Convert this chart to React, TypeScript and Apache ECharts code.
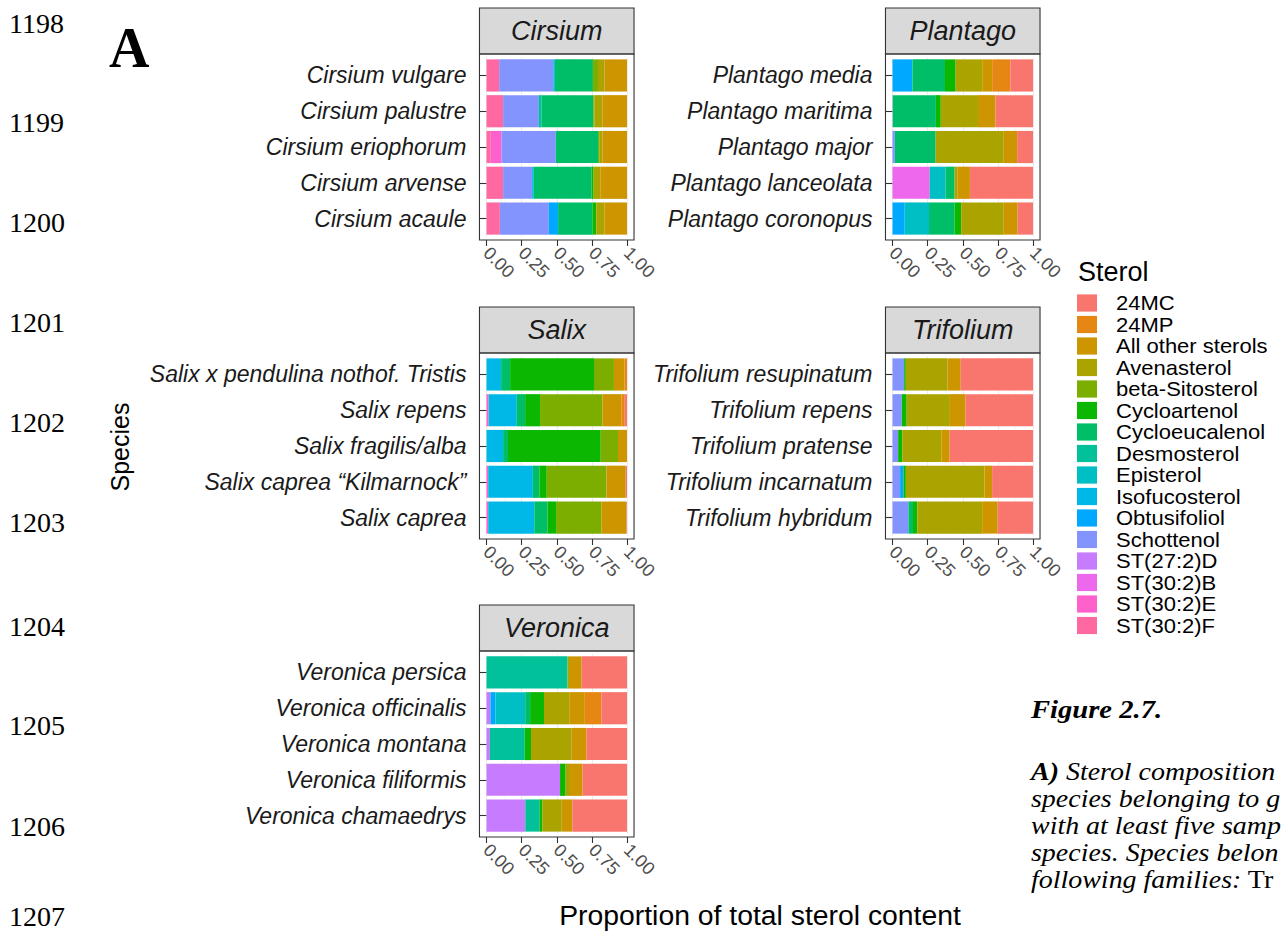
import React, { useEffect, useRef } from "react";
import * as echarts from "echarts";

// Sterols in legend order (ggplot factor order); stacked left->right in reverse order
const STEROLS = [
  "24MC", "24MP", "All other sterols", "Avenasterol", "beta-Sitosterol", "Cycloartenol",
  "Cycloeucalenol", "Desmosterol", "Episterol", "Isofucosterol", "Obtusifoliol", "Schottenol",
  "ST(27:2)D", "ST(30:2)B", "ST(30:2)E", "ST(30:2)F",
];
const STEROL_COLORS = [
  "#F8766D", "#E68613", "#CD9600", "#ABA300", "#7CAE00", "#0CB702", "#00BE67", "#00C19A",
  "#00BFC4", "#00B8E7", "#00A9FF", "#8494FF", "#C77CFF", "#ED68ED", "#FF61CC", "#FF68A1",
];

const GENERA = ["Cirsium", "Plantago", "Salix", "Trifolium", "Veronica"];

// columns: 24MC 24MP Other Aven bSit Cart Ceuc Desm Epis Isof Obtu Scho 27D 30B 30E 30F
const CIRSIUM_SPECIES = ["Cirsium vulgare", "Cirsium palustre", "Cirsium eriophorum", "Cirsium arvense", "Cirsium acaule"];
const CIRSIUM_VALUES = [
  [0, 0, 0.159, 0.047, 0.036, 0, 0.270, 0, 0, 0.012, 0, 0.384, 0, 0, 0, 0.090],
  [0, 0, 0.175, 0.055, 0.010, 0, 0.367, 0.019, 0, 0, 0, 0.254, 0, 0, 0, 0.118],
  [0, 0, 0.174, 0.020, 0.012, 0, 0.301, 0, 0, 0, 0, 0.386, 0, 0, 0.077, 0.030],
  [0, 0, 0.190, 0.047, 0, 0.015, 0.410, 0, 0, 0.012, 0, 0.206, 0, 0, 0, 0.118],
  [0, 0, 0.159, 0.059, 0, 0.028, 0.244, 0, 0, 0, 0.066, 0.348, 0, 0, 0, 0.095],
];

const PLANTAGO_SPECIES = ["Plantago media", "Plantago maritima", "Plantago major", "Plantago lanceolata", "Plantago coronopus"];
const PLANTAGO_VALUES = [
  [0.161, 0.130, 0.071, 0.189, 0, 0.076, 0.232, 0, 0, 0, 0.142, 0, 0, 0, 0, 0],
  [0.267, 0, 0.125, 0.265, 0, 0.035, 0.307, 0, 0, 0, 0, 0.002, 0, 0, 0, 0],
  [0.113, 0, 0.095, 0.485, 0, 0, 0.290, 0, 0, 0, 0, 0.017, 0, 0, 0, 0],
  [0.449, 0, 0.090, 0.019, 0, 0, 0.064, 0, 0.113, 0, 0, 0, 0, 0.265, 0, 0],
  [0.109, 0, 0.099, 0.303, 0, 0.047, 0.182, 0, 0.173, 0, 0.087, 0, 0, 0, 0, 0],
];

const SALIX_SPECIES = ["Salix x pendulina nothof. Tristis", "Salix repens", "Salix fragilis/alba", "Salix caprea \u201cKilmarnock\u201d", "Salix caprea"];
const SALIX_VALUES = [
  [0, 0.018, 0.075, 0, 0.142, 0.597, 0.064, 0, 0, 0.104, 0, 0, 0, 0, 0, 0],
  [0.016, 0.024, 0.134, 0, 0.443, 0.106, 0.059, 0, 0, 0.200, 0, 0, 0, 0, 0.015, 0],
  [0, 0, 0.064, 0, 0.123, 0.660, 0.035, 0, 0, 0.118, 0, 0, 0, 0, 0, 0],
  [0.009, 0, 0.137, 0, 0.425, 0.052, 0.047, 0, 0, 0.318, 0, 0, 0, 0, 0.012, 0],
  [0.005, 0, 0.177, 0, 0.323, 0.061, 0.094, 0, 0, 0.328, 0, 0, 0, 0, 0.012, 0],
];

const TRIFOLIUM_SPECIES = ["Trifolium resupinatum", "Trifolium repens", "Trifolium pratense", "Trifolium incarnatum", "Trifolium hybridum"];
const TRIFOLIUM_VALUES = [
  [0.515, 0, 0.095, 0.296, 0, 0.012, 0, 0, 0, 0, 0, 0.083, 0, 0, 0, 0],
  [0.480, 0, 0.111, 0.307, 0, 0.035, 0, 0, 0, 0, 0, 0.066, 0, 0, 0, 0],
  [0.593, 0, 0.059, 0.277, 0, 0.031, 0, 0, 0, 0, 0, 0.040, 0, 0, 0, 0],
  [0.291, 0, 0.054, 0.560, 0, 0.017, 0, 0, 0, 0, 0.024, 0.054, 0, 0, 0, 0],
  [0.251, 0, 0.111, 0.461, 0, 0.031, 0.033, 0, 0, 0, 0, 0.113, 0, 0, 0, 0],
];

const VERONICA_SPECIES = ["Veronica persica", "Veronica officinalis", "Veronica montana", "Veronica filiformis", "Veronica chamaedrys"];
const VERONICA_VALUES = [
  [0.323, 0, 0.083, 0.017, 0, 0, 0, 0.577, 0, 0, 0, 0, 0, 0, 0, 0],
  [0.182, 0.118, 0.111, 0.179, 0, 0.099, 0.035, 0, 0.212, 0, 0.035, 0, 0.028, 0, 0, 0],
  [0.288, 0, 0.106, 0.290, 0, 0.045, 0, 0.248, 0, 0, 0, 0, 0.024, 0, 0, 0],
  [0.316, 0, 0.090, 0.031, 0, 0.040, 0, 0, 0, 0, 0, 0, 0.524, 0, 0, 0],
  [0.389, 0, 0.075, 0.137, 0, 0.021, 0, 0.101, 0, 0, 0, 0, 0.276, 0, 0, 0],
];

const X_TICK_STEP = 0.25;
const LINE_NUMBERS = ["1198", "1199", "1200", "1201", "1202", "1203", "1204", "1205", "1206", "1207"];
const Y_TITLE = "Species";
const X_TITLE = "Proportion of total sterol content";
const LEGEND_TITLE = "Sterol";
const FIGURE_LABEL = "Figure 2.7.";
const CAPTION_LINES = [
  "{b|A)}{i| Sterol composition}",
  "{i|species belonging to g}",
  "{i|with at least five samp}",
  "{i|species. Species belon}",
  "{i|following families:}{r| Tr}",
];

const SANS = '"Liberation Sans", Arial, sans-serif';
const SERIF = '"Liberation Serif", "Times New Roman", serif';

export default function App() {
  const ref = useRef<HTMLDivElement>(null);

  useEffect(() => {
    const chart = echarts.init(ref.current!, null, { renderer: "svg" });

    const panels = [
      { genus: GENERA[0], species: CIRSIUM_SPECIES, values: CIRSIUM_VALUES, col: 0, row: 0 },
      { genus: GENERA[1], species: PLANTAGO_SPECIES, values: PLANTAGO_VALUES, col: 1, row: 0 },
      { genus: GENERA[2], species: SALIX_SPECIES, values: SALIX_VALUES, col: 0, row: 1 },
      { genus: GENERA[3], species: TRIFOLIUM_SPECIES, values: TRIFOLIUM_VALUES, col: 1, row: 1 },
      { genus: GENERA[4], species: VERONICA_SPECIES, values: VERONICA_VALUES, col: 0, row: 2 },
    ];

    // layout
    const colX0 = [486.5, 892.5];
    const plotW = 140.5;
    const pad = plotW * 0.05;
    const rowTop = [54, 353, 651];
    const panelH = 186;
    const stripH = 46;
    const band = panelH / 5.2;

    const grids: any[] = [];
    const xAxes: any[] = [];
    const yAxes: any[] = [];
    const series: any[] = [];
    const graphics: any[] = [];

    panels.forEach((p, i) => {
      const gx = colX0[p.col];
      const top = rowTop[p.row];
      grids.push({ left: gx, width: plotW, top: top + band * 0.1, height: band * 5, containLabel: false });
      xAxes.push({
        type: "value", gridIndex: i, min: 0, max: 1, interval: X_TICK_STEP, offset: band * 0.1,
        axisLine: { show: false },
        axisTick: { show: true, length: 6, lineStyle: { color: "#333333", width: 1.1 } },
        axisLabel: {
          rotate: -45, margin: 10, fontSize: 18, color: "#4D4D4D", fontFamily: SANS,
          formatter: (v: number) => v.toFixed(2),
        },
        splitLine: { show: true, lineStyle: { color: "#EBEBEB", width: 1 } },
        minorTick: { show: false, splitNumber: 2 },
        minorSplitLine: { show: true, lineStyle: { color: "#F4F4F4", width: 0.6 } },
      });
      yAxes.push({
        type: "category", gridIndex: i, data: p.species, inverse: true, offset: pad,
        axisLine: { show: false },
        axisTick: { show: true, length: 7, alignWithLabel: true, lineStyle: { color: "#333333", width: 1.1 } },
        axisLabel: { fontSize: 23, fontStyle: "italic", color: "#1A1A1A", fontFamily: SANS, margin: 13 },
        splitLine: { show: false },
      });
      const sums = p.values.map((r) => r.reduce((a, b) => a + b, 0));
      for (let s = STEROLS.length - 1; s >= 0; s--) {
        series.push({
          type: "bar", name: STEROLS[s], stack: "panel" + i, xAxisIndex: i, yAxisIndex: i,
          barWidth: "90%", silent: true,
          itemStyle: { color: STEROL_COLORS[s] },
          data: p.values.map((r, k) => r[s] / sums[k]),
        });
      }
      // strip
      graphics.push({
        type: "rect", shape: { x: gx - pad, y: top - stripH, width: plotW * 1.1, height: stripH },
        style: { fill: "#D9D9D9", stroke: "#333333", lineWidth: 1.1 }, z: 10,
      });
      graphics.push({
        type: "text", x: gx + plotW / 2, y: top - stripH / 2, z: 11,
        style: { text: p.genus, fontSize: 27, fontStyle: "italic", fontFamily: SANS, fill: "#1A1A1A", textAlign: "center", textVerticalAlign: "middle" },
      });
      // panel border
      graphics.push({
        type: "rect", shape: { x: gx - pad, y: top, width: plotW * 1.1, height: panelH },
        style: { fill: "none", stroke: "#333333", lineWidth: 1.1 }, z: 10,
      });
    });

    // line numbers
    const lineY = [23, 122, 222, 322, 422, 522, 626, 725, 826, 916];
    LINE_NUMBERS.forEach((t, i) => {
      graphics.push({
        type: "text", x: 9, y: lineY[i],
        style: { text: t, fontSize: 28, fontFamily: SERIF, fill: "#000", textAlign: "left", textVerticalAlign: "middle" },
      });
    });
    // panel letter
    graphics.push({
      type: "text", x: 109, y: 48,
      style: { text: "A", fontSize: 56, fontWeight: "bold", fontFamily: SERIF, fill: "#000", textAlign: "left", textVerticalAlign: "middle" },
    });
    // axis titles
    graphics.push({
      type: "text", x: 120, y: 447, rotation: Math.PI / 2,
      style: { text: Y_TITLE, fontSize: 25, fontFamily: SANS, fill: "#000", textAlign: "center", textVerticalAlign: "middle" },
    });
    graphics.push({
      type: "text", x: 760, y: 916, scaleX: 1.05,
      style: { text: X_TITLE, fontSize: 27, fontFamily: SANS, fill: "#000", textAlign: "center", textVerticalAlign: "middle" },
    });
    // legend
    graphics.push({
      type: "text", x: 1078, y: 272,
      style: { text: LEGEND_TITLE, fontSize: 27, fontFamily: SANS, fill: "#000", textAlign: "left", textVerticalAlign: "middle" },
    });
    STEROLS.forEach((name, i) => {
      const cy = 303 + i * 21.5;
      graphics.push({
        type: "rect", shape: { x: 1077, y: cy - 8.6, width: 20, height: 17.2 },
        style: { fill: STEROL_COLORS[i] },
      });
      graphics.push({
        type: "text", x: 1116, y: cy, scaleX: 1.1,
        style: { text: name, fontSize: 20, fontFamily: SANS, fill: "#000", textAlign: "left", textVerticalAlign: "middle" },
      });
    });
    // caption
    const capF = 26;
    const capScale = 1.075;
    graphics.push({
      type: "text", x: 1031, y: 718 - capF * 0.33, scaleX: 1.1,
      style: { text: FIGURE_LABEL, fontSize: capF, fontWeight: "bold", fontStyle: "italic", fontFamily: SERIF, fill: "#000", textAlign: "left", textVerticalAlign: "middle" },
    });
    const capBase = [780, 807, 834, 861, 888];
    const rich = {
      b: { fontSize: capF, fontWeight: "bold", fontStyle: "italic", fontFamily: SERIF, fill: "#000", color: "#000" },
      i: { fontSize: capF, fontStyle: "italic", fontFamily: SERIF, fill: "#000", color: "#000" },
      r: { fontSize: capF, fontFamily: SERIF, fill: "#000", color: "#000" },
    };
    CAPTION_LINES.forEach((t, i) => {
      graphics.push({
        type: "text", x: 1031, y: capBase[i] - capF * 0.33, scaleX: capScale,
        style: { text: t, rich, fontSize: capF, fontFamily: SERIF, fill: "#000", textAlign: "left", textVerticalAlign: "middle" },
      });
    });

    chart.setOption({
      animation: false,
      backgroundColor: "#FFFFFF",
      grid: grids,
      xAxis: xAxes,
      yAxis: yAxes,
      series,
      graphic: { elements: graphics },
    });

    return () => chart.dispose();
  }, []);

  return (
    <div
      ref={ref}
      style={{ position: "fixed", left: 0, top: 0, width: 1283, height: 932, background: "#fff" }}
    />
  );
}
